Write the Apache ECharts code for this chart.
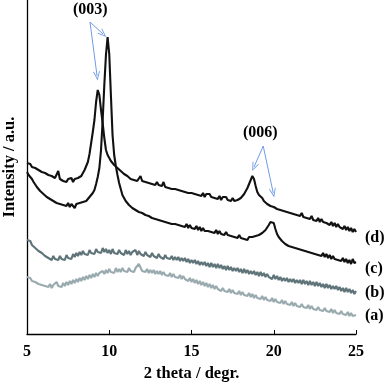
<!DOCTYPE html>
<html>
<head>
<meta charset="utf-8">
<script src="https://cdn.jsdelivr.net/npm/echarts@6/dist/echarts.min.js"></script>
<style>
  html, body { margin: 0; padding: 0; background: #fff; }
  #chart { width: 392px; height: 384px; }
</style>
</head>
<body>
<div id="chart"></div>
<script>
// XRD patterns, sampled every 0.1 degree from 5 to 25 (intensity in arbitrary units)
const xStart = 5
const xStep = 0.1
const xTicks = [5, 10, 15, 20, 25]

const curveD = [
  171, 169, 170, 167, 168, 166, 167, 164, 165, 162,
  164, 161, 162, 159, 161, 158, 159, 156, 158, 163,
  155, 156, 153, 155, 152, 155, 153, 156, 152, 155,
  153, 156, 155, 158, 160, 164, 166, 172, 180, 191,
  202, 214, 232, 244, 239, 224, 211, 196, 184, 179,
  176, 173, 172, 169, 169, 166, 166, 163, 163, 160,
  161, 158, 158, 155, 157, 154, 156, 153, 155, 158,
  153, 155, 152, 154, 151, 153, 150, 152, 149, 152,
  149, 151, 148, 152, 147, 149, 146, 148, 145, 147,
  145, 147, 144, 146, 143, 145, 142, 144, 141, 143,
  141, 143, 140, 142, 139, 141, 138, 141, 137, 140,
  138, 140, 137, 139, 136, 138, 135, 138, 134, 137,
  135, 137, 134, 136, 133, 136, 133, 135, 134, 136,
  136, 138, 140, 143, 146, 150, 154, 158, 155, 148,
  142, 139, 137, 136, 133, 133, 130, 131, 128, 129,
  127, 128, 125, 127, 124, 126, 123, 125, 122, 124,
  121, 123, 120, 122, 119, 121, 118, 121, 117, 119,
  116, 118, 115, 118, 114, 116, 113, 116, 112, 115,
  112, 114, 111, 113, 109, 112, 108, 111, 107, 110,
  107, 109, 105, 108, 104, 107, 103, 106, 102, 105,
  102
]

const curveC = [
  162, 159, 157, 155, 152, 151, 147, 146, 143, 144,
  140, 140, 137, 138, 135, 136, 133, 135, 131, 133,
  130, 132, 129, 131, 128, 131, 127, 130, 128, 126,
  130, 128, 131, 129, 132, 130, 133, 135, 137, 139,
  141, 144, 150, 157, 166, 184, 214, 249, 279, 297,
  280, 239, 199, 179, 168, 159, 151, 145, 139, 137,
  133, 133, 129, 130, 126, 127, 124, 125, 122, 124,
  121, 122, 119, 121, 118, 119, 116, 118, 115, 117,
  114, 116, 113, 115, 112, 114, 111, 113, 110, 112,
  110, 112, 109, 111, 108, 110, 107, 110, 106, 109,
  106, 108, 105, 108, 104, 107, 103, 106, 103, 105,
  103, 105, 102, 104, 101, 104, 100, 103, 100, 102,
  99, 102, 99, 101, 98, 100, 97, 99, 96, 99,
  96, 98, 95, 97, 94, 97, 95, 97, 95, 98,
  97, 99, 98, 101, 101, 104, 106, 109, 112, 114,
  111, 105, 100, 97, 95, 93, 93, 90, 91, 88,
  90, 87, 89, 86, 88, 85, 87, 84, 86, 83,
  85, 82, 84, 81, 83, 80, 82, 79, 81, 78,
  81, 77, 80, 76, 79, 75, 78, 75, 77, 74,
  76, 73, 76, 72, 75, 71, 74, 70, 75, 71,
  72
]

const curveB = [
  94, 92, 93, 89, 90, 86, 87, 83, 85, 81,
  82, 78, 80, 76, 78, 74, 78, 75, 77, 74,
  78, 75, 77, 74, 79, 76, 78, 75, 80, 77,
  81, 78, 82, 79, 83, 80, 82, 79, 84, 81,
  83, 80, 85, 82, 84, 81, 86, 82, 85, 81,
  84, 80, 85, 81, 83, 80, 84, 81, 83, 79,
  84, 80, 83, 79, 82, 80, 84, 79, 83, 80,
  82, 78, 82, 79, 81, 77, 81, 78, 80, 76,
  80, 77, 79, 75, 79, 76, 78, 75, 78, 74,
  77, 74, 77, 73, 76, 73, 76, 72, 75, 71,
  74, 71, 74, 70, 73, 69, 72, 69, 72, 68,
  71, 67, 71, 67, 70, 66, 70, 66, 69, 65,
  68, 64, 68, 64, 67, 63, 66, 63, 66, 62,
  65, 61, 65, 61, 64, 60, 63, 60, 63, 59,
  62, 58, 62, 58, 61, 57, 60, 57, 59, 55,
  59, 55, 58, 54, 57, 53, 56, 53, 56, 52,
  55, 52, 55, 51, 54, 51, 54, 50, 54, 50,
  53, 49, 53, 49, 52, 48, 52, 48, 51, 47,
  50, 46, 50, 46, 49, 45, 48, 45, 48, 44,
  47, 43, 46, 42, 46, 42, 45, 41, 44, 40,
  43
]

const curveA = [
  57, 55, 56, 53, 55, 52, 53, 50, 52, 49,
  51, 48, 50, 47, 50, 46, 49, 47, 52, 48,
  50, 47, 51, 48, 52, 49, 53, 50, 54, 51,
  55, 52, 56, 53, 57, 54, 58, 55, 59, 56,
  60, 57, 61, 58, 61, 59, 63, 60, 64, 61,
  65, 62, 64, 61, 66, 62, 65, 62, 66, 63,
  65, 62, 66, 63, 65, 62, 66, 64, 70, 68,
  63, 65, 62, 65, 61, 64, 61, 64, 60, 63,
  60, 63, 59, 62, 59, 61, 58, 61, 57, 60,
  57, 59, 56, 59, 55, 58, 55, 57, 53, 56,
  52, 55, 51, 54, 50, 53, 49, 52, 48, 51,
  47, 50, 46, 49, 45, 48, 45, 47, 43, 46,
  43, 45, 42, 45, 41, 44, 41, 43, 40, 43,
  39, 42, 39, 41, 38, 41, 37, 40, 36, 39,
  36, 38, 35, 38, 34, 37, 34, 36, 33, 36,
  32, 35, 32, 34, 31, 34, 30, 33, 30, 32,
  29, 32, 28, 31, 28, 30, 27, 30, 27, 29,
  26, 29, 25, 28, 25, 27, 24, 27, 24, 26,
  23, 26, 23, 25, 22, 25, 21, 24, 21, 23,
  20, 23, 20, 22, 19, 22, 18, 21, 18, 20,
  19
]

// annotation arrows: [from, to] in data units
const peak003Arrows = [
  [[8.83, 312], [9.62, 300]],
  [[8.83, 312], [9.26, 258]]
]
const peak006Arrows = [
  [[19.36, 188], [18.8, 167]],
  [[19.36, 188], [19.97, 141]]
]

const serif = 'Liberation Serif'
const arrowBlue = '#6f9be8'
const openArrow = 'path://M0,10 L5,0 L10,10 L8.6,10 L5,2.6 L1.4,10 Z'

function toPairs (vals) {
  return vals.map((v, i) => [+(xStart + i * xStep).toFixed(1), v])
}

function arrowLines (list) {
  return list.map(a => [
    { coord: a[0], symbol: 'none' },
    { coord: a[1], symbol: openArrow, symbolSize: [7, 9] }
  ])
}

function lineSeries (name, vals, color, width, labelOffsetY) {
  return {
    name: name,
    type: 'line',
    data: toPairs(vals),
    showSymbol: false,
    silent: true,
    lineStyle: { color: color, width: width },
    endLabel: {
      show: true,
      formatter: '(' + name + ')',
      distance: 9,
      offset: [0, labelOffsetY],
      fontFamily: serif,
      fontWeight: 'bold',
      fontSize: 16,
      color: '#000'
    }
  }
}

const chart = echarts.init(document.getElementById('chart'))
const seriesD = lineSeries('d', curveD, '#111', 2.1, 6)
seriesD.markLine = {
  silent: true,
  symbol: 'none',
  label: { show: false },
  lineStyle: { color: arrowBlue, width: 1, type: 'solid' },
  data: arrowLines(peak003Arrows).concat(arrowLines(peak006Arrows))
}

chart.setOption({
  animation: false,
  grid: { left: 27, right: 36, top: 0, bottom: 50, outerBoundsMode: 'none' },
  xAxis: {
    type: 'value',
    min: 5,
    max: 25,
    interval: 5,
    name: '2 theta / degr.',
    nameLocation: 'middle',
    nameGap: 31,
    nameTextStyle: { fontFamily: serif, fontWeight: 'bold', fontSize: 16.5, color: '#000' },
    axisLine: { lineStyle: { color: '#000', width: 1.3 } },
    axisTick: { inside: true, length: 4, lineStyle: { color: '#000' } },
    axisLabel: {
      margin: 10,
      fontFamily: serif,
      fontWeight: 'bold',
      fontSize: 16,
      color: '#000',
      formatter: v => (xTicks.indexOf(v) >= 0 ? String(v) : '')
    },
    splitLine: { show: false }
  },
  yAxis: {
    type: 'value',
    min: 0,
    max: 334,
    name: 'Intensity / a.u.',
    nameLocation: 'middle',
    nameGap: 9,
    nameTextStyle: { fontFamily: serif, fontWeight: 'bold', fontSize: 16.5, color: '#000' },
    axisLine: { show: true, lineStyle: { color: '#000', width: 1.3 } },
    axisTick: { show: false },
    axisLabel: { show: false },
    splitLine: { show: false }
  },
  graphic: [
    {
      type: 'text',
      left: 73,
      top: 2,
      style: { text: '(003)', fontFamily: serif, fontWeight: 'bold', fontSize: 16, fill: '#000' }
    },
    {
      type: 'text',
      left: 243,
      top: 125,
      style: { text: '(006)', fontFamily: serif, fontWeight: 'bold', fontSize: 16, fill: '#000' }
    }
  ],
  series: [
    lineSeries('a', curveA, '#9aabaf', 2.1, 1),
    lineSeries('b', curveB, '#5f7479', 2.1, 2),
    lineSeries('c', curveC, '#111', 2.1, 7),
    seriesD
  ]
})
</script>
</body>
</html>
